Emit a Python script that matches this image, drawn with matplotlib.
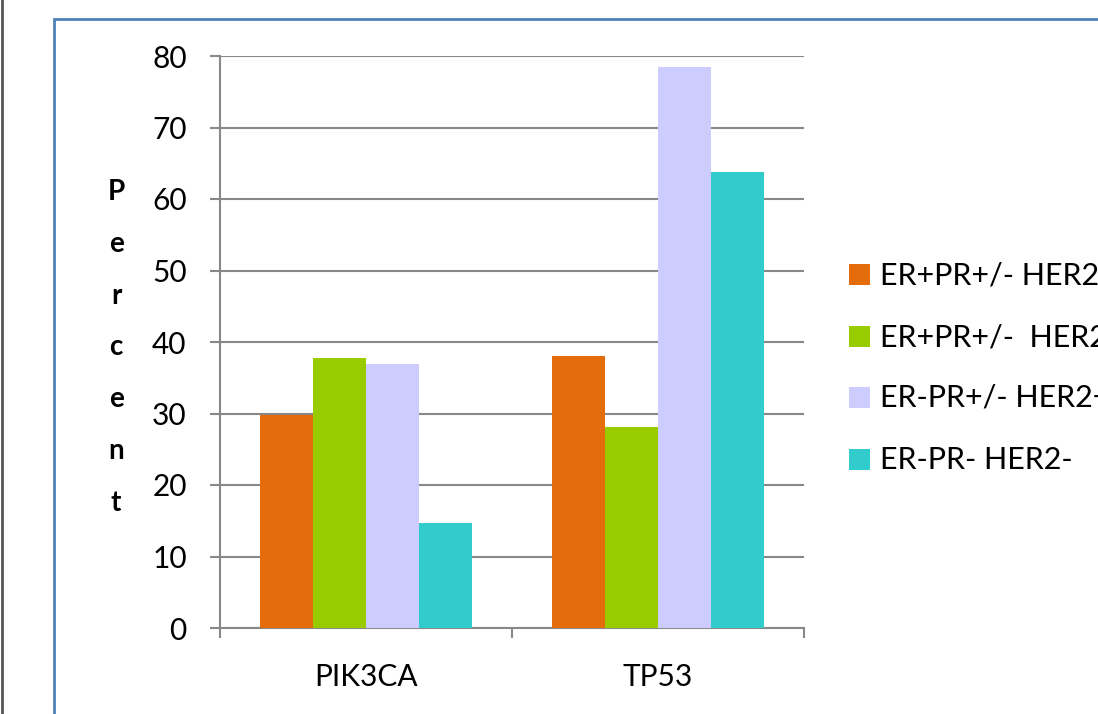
import matplotlib
matplotlib.use("Agg")
import matplotlib.pyplot as plt
from matplotlib.patches import Rectangle
import numpy as np

plt.rcParams['font.family'] = ['Lato', 'DejaVu Sans']

genes = ["PIK3CA", "TP53"]
subtypes = ["ER+PR+/- HER2+", "ER+PR+/-  HER2-", "ER-PR+/- HER2+", "ER-PR- HER2-"]
her2_pos = [29.8, 38.0]
her2_neg = [37.7, 28.1]
er_neg_her2_pos = [36.9, 78.5]
triple_neg = [14.7, 63.8]
y_ticks = [0, 10, 20, 30, 40, 50, 60, 70, 80]
axis_title = "Percent"

series = [her2_pos, her2_neg, er_neg_her2_pos, triple_neg]
colors = ["#E46C0A", "#99CC00", "#CCCCFF", "#33CCCC"]

W, H = 1098, 714
fig = plt.figure(figsize=(W / 100, H / 100), dpi=100)

# outer frame of the chart area and the dark edge on the far left
fig.add_artist(Rectangle((54 / W, -0.05), 1.2, 1 - 19 / H + 0.05, transform=fig.transFigure,
                         fill=False, edgecolor="#4F81BD", linewidth=2.0))
fig.add_artist(plt.Line2D([1.5 / W, 1.5 / W], [0, 1], transform=fig.transFigure,
                          color="#555555", linewidth=2.0))

ax = fig.add_axes([220 / W, 1 - 628 / H, (804 - 220) / W, (628 - 56) / H])

x = np.arange(len(genes))
bw = 0.1815
offsets = [-1.5, -0.5, 0.5, 1.5]
for vals, col, off, lab in zip(series, colors, offsets, subtypes):
    ax.bar(x + off * bw, vals, width=bw, color=col, label=lab, zorder=3, linewidth=0)

ax.set_xlim(-0.5, 1.5)
ax.set_ylim(0, 80)
ax.set_yticks(y_ticks)
ax.yaxis.grid(True, color="#888888", linewidth=1.5, zorder=0)
ax.tick_params(axis='y', direction='out', length=7, width=1.5, color="#888888",
               labelsize=21.5, pad=17)

ax.set_xticks(x)
ax.set_xticklabels(genes, fontsize=21.5)
ax.set_xticks([-0.5, 0.5, 1.5], minor=True)
ax.tick_params(axis='x', which='major', length=0, pad=25)
ax.tick_params(axis='x', which='minor', direction='out', length=7, width=1.5, color="#888888")

for s in ["top", "right"]:
    ax.spines[s].set_visible(False)
for s in ["left", "bottom"]:
    ax.spines[s].set_color("#888888")
    ax.spines[s].set_linewidth(1.5)

# vertical stacked axis title, one letter per row
for i, ch in enumerate(axis_title):
    fig.text(116 / W, 1 - (192 + 51.8 * i) / H, ch, ha="center", va="center",
             fontsize=20, fontweight="bold")

# legend entries
legend_y = [275, 337, 398, 460]
for yy, col, lab in zip(legend_y, colors, subtypes):
    fig.add_artist(Rectangle((849 / W, 1 - (yy + 10) / H), 21 / W, 21 / H,
                             transform=fig.transFigure, facecolor=col, edgecolor="none"))
    fig.text(880 / W, 1 - yy / H, lab, ha="left", va="center", fontsize=22)

fig.savefig("out.png", dpi=100)
